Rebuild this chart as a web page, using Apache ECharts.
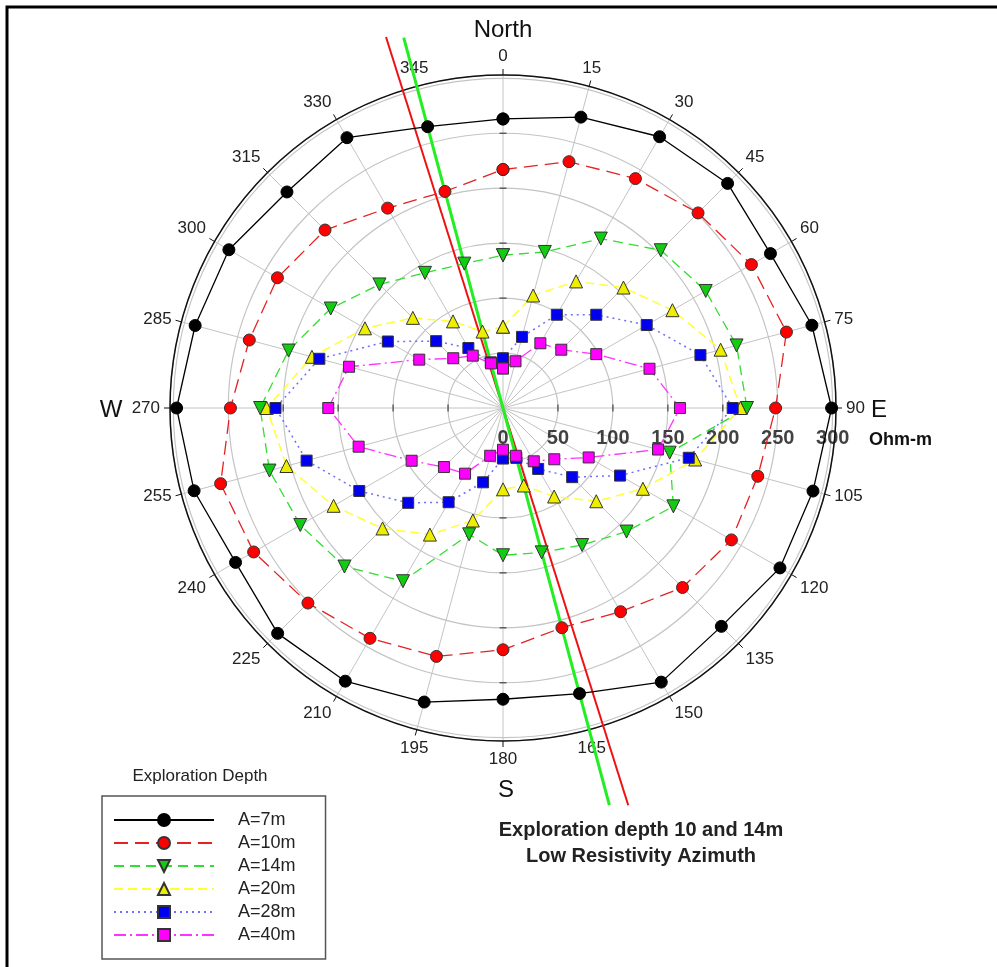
<!DOCTYPE html>
<html>
<head>
<meta charset="utf-8">
<script src="https://cdn.jsdelivr.net/npm/echarts@6/dist/echarts.min.js"></script>
<style>
html,body{margin:0;padding:0;background:#fff;}
#chart{width:997px;height:967px;}
</style>
</head>
<body>
<div id="chart"></div>
<script>
// ---- data ----
const angles = [0,15,30,45,60,75,90,105,120,135,150,165,180,195,210,225,240,255,270,285,300,315,330,345];
const angleLabels = ['0','15','30','45','60','75','90','105','120','135','150','165','180','195','210','225','240','255','270','285','300','315','330','345'];
const radTickVals = [0,50,100,150,200,250,300];
const radTickLabels = ['0','50','100','150','200','250','300'];
const seriesNames = ['A=7m','A=10m','A=14m','A=20m','A=28m','A=40m'];
const A7  = [263,274,285,289,281,291,299,292,291,281,288,269,265,277,287,290,281,291,297,290,288,278,284,265];
const A10 = [217,232,241,251,261,267,248,240,240,231,214,207,220,234,242,251,262,266,248,239,237,229,210,204];
const A14 = [139,147,178,203,213,220,222,157,179,159,144,136,134,119,182,204,213,220,221,202,181,159,142,136];
const A20 = [74,106,133,155,178,205,216,181,147,120,93,73,74,106,133,155,178,204,215,180,145,116,91,72];
const A28 = [45,67,98,120,151,186,209,175,123,89,64,47,46,70,99,122,151,185,207,173,121,86,63,43];
const A40 = [36,44,68,75,98,138,161,146,90,66,56,45,38,45,69,76,96,136,159,145,88,64,55,42];
// azimuth lines: [radius (Ohm-m scale), angle] end points
const redAzimuth   = [[354,342.5],[379,162.5]];
const greenAzimuth = [[349,345],[374,165]];

const FONT = '"Liberation Sans", Arial, sans-serif';
const R_MAX = 303, R_PX = 333, R_MAX_EXT = 400;

function loop(vals){
  const d = angles.map((a,i)=>[vals[i], a]);
  d.push([vals[0], 360]);
  return d;
}

const chart = echarts.init(document.getElementById('chart'), null, {renderer:'canvas'});

function dataSeries(name, vals, opts){
  return Object.assign({
    name: name,
    type: 'line',
    coordinateSystem: 'polar',
    polarIndex: 0,
    data: loop(vals),
    clip: false,
    symbolSize: 12,
    animation: false
  }, opts);
}

const tickDashV = [];
const tickDashH = [];
radTickVals.forEach(v=>{
  if (v === 0 || v === 300) return;
  [0,180].forEach(a=>tickDashV.push([v,a]));
  [90,270].forEach(a=>tickDashH.push([v,a]));
});

const option = {
  backgroundColor:'#fff',
  animation:false,
  polar:[
    {center:[503,408], radius:R_PX},
    {center:[503,408], radius:R_PX*R_MAX_EXT/R_MAX}
  ],
  angleAxis:[{
    polarIndex:0,
    type:'value', min:0, max:360, interval:15, startAngle:90, clockwise:true,
    axisLine:{show:true, lineStyle:{color:'#111', width:1.5}},
    axisTick:{show:true, inside:false, length:6, lineStyle:{color:'#111', width:1}},
    axisLabel:{show:true, margin:10, fontSize:17, color:'#222', fontFamily:FONT,
      formatter:function(v){ const i = Math.round(v/15); return (v>=360) ? '' : angleLabels[i]; }},
    splitLine:{show:true, lineStyle:{color:'#c4c4c4', width:1}}
  },{
    polarIndex:1,
    type:'value', min:0, max:360, startAngle:90, clockwise:true,
    axisLine:{show:false}, axisTick:{show:false}, axisLabel:{show:false}, splitLine:{show:false}
  }],
  radiusAxis:[{
    polarIndex:0,
    type:'value', min:0, max:R_MAX, interval:50,
    axisLine:{show:false}, axisTick:{show:false}, axisLabel:{show:false},
    splitLine:{show:true, lineStyle:{color:'#c4c4c4', width:1.2}}
  },{
    polarIndex:1,
    type:'value', min:0, max:R_MAX_EXT,
    axisLine:{show:false}, axisTick:{show:false}, axisLabel:{show:false}, splitLine:{show:false}
  }],
  legend:{
    data: seriesNames,
    orient:'vertical', left:102, top:796,
    padding:[15,30,15,11], itemGap:5, itemWidth:100, itemHeight:15,
    borderColor:'#555', borderWidth:1.5, selectedMode:false,
    textStyle:{fontSize:18, color:'#222', fontFamily:FONT, padding:[0,0,0,19]}
  },
  graphic:[
    {type:'rect', shape:{x:7,y:7,width:1200,height:1200}, style:{fill:'none', stroke:'#000', lineWidth:3}, z:100},
    {type:'text', x:503, y:30, style:{text:'North', font:'24px '+FONT, fill:'#111', align:'center', verticalAlign:'middle'}},
    {type:'text', x:871, y:410, style:{text:'E', font:'24px '+FONT, fill:'#111', align:'left', verticalAlign:'middle'}},
    {type:'text', x:111, y:410, style:{text:'W', font:'24px '+FONT, fill:'#111', align:'center', verticalAlign:'middle'}},
    {type:'text', x:506, y:790, style:{text:'S', font:'24px '+FONT, fill:'#111', align:'center', verticalAlign:'middle'}},
    {type:'text', x:869, y:440, style:{text:'Ohm-m', font:'bold 18px '+FONT, fill:'#111', align:'left', verticalAlign:'middle'}},
    {type:'text', x:200, y:776, style:{text:'Exploration Depth', font:'17px '+FONT, fill:'#222', align:'center', verticalAlign:'middle'}},
    {type:'text', x:641, y:830, style:{text:'Exploration depth 10 and 14m', font:'bold 20px '+FONT, fill:'#222', align:'center', verticalAlign:'middle'}},
    {type:'text', x:641, y:856, style:{text:'Low Resistivity Azimuth', font:'bold 20px '+FONT, fill:'#222', align:'center', verticalAlign:'middle'}}
  ],
  series:[
    {type:'line', coordinateSystem:'polar', polarIndex:1, data:redAzimuth, clip:false, symbol:'none', silent:true,
      lineStyle:{color:'#ee1111', width:2}},
    {type:'line', coordinateSystem:'polar', polarIndex:1, data:greenAzimuth, clip:false, symbol:'none', silent:true,
      lineStyle:{color:'#22ee22', width:3}},
    {type:'scatter', coordinateSystem:'polar', polarIndex:0, data:tickDashV, symbol:'rect', symbolSize:[7,1.2], silent:true,
      itemStyle:{color:'#222'}},
    {type:'scatter', coordinateSystem:'polar', polarIndex:0, data:tickDashH, symbol:'rect', symbolSize:[1.2,7], silent:true,
      itemStyle:{color:'#222'}},
    {type:'scatter', coordinateSystem:'polar', polarIndex:0, data:radTickVals.map(v=>[v,90]), symbolSize:1, silent:true,
      itemStyle:{color:'rgba(0,0,0,0)'},
      label:{show:true, position:'inside', offset:[0,30], fontSize:20, fontWeight:'bold', color:'#111', fontFamily:FONT,
        formatter:function(p){ return radTickLabels[p.dataIndex]; }}},
    dataSeries('A=7m', A7, {symbol:'circle',
      lineStyle:{color:'#000', width:1.3, type:'solid'},
      itemStyle:{color:'#000', borderColor:'#000', borderWidth:1}}),
    dataSeries('A=10m', A10, {symbol:'circle',
      lineStyle:{color:'#e52222', width:1.3, type:[14,7]},
      itemStyle:{color:'#ff0000', borderColor:'#333', borderWidth:1}}),
    dataSeries('A=14m', A14, {symbol:'triangle', symbolRotate:180, symbolSize:13,
      lineStyle:{color:'#33dd33', width:1.3, type:[10,6]},
      itemStyle:{color:'#11cc11', borderColor:'#333', borderWidth:1}}),
    dataSeries('A=20m', A20, {symbol:'triangle', symbolSize:13,
      lineStyle:{color:'#ffff33', width:1.5, type:[9,5]},
      itemStyle:{color:'#eeee00', borderColor:'#333', borderWidth:1}}),
    dataSeries('A=28m', A28, {symbol:'rect', symbolSize:11,
      lineStyle:{color:'#6f6fff', width:1.5, type:[2,4]},
      itemStyle:{color:'#0000ee', borderColor:'#333', borderWidth:1}}),
    dataSeries('A=40m', A40, {symbol:'rect', symbolSize:11,
      lineStyle:{color:'#ff33ff', width:1.3, type:[12,4,2,4]},
      itemStyle:{color:'#ff00ff', borderColor:'#333', borderWidth:1}})
  ]
};
chart.setOption(option);
</script>
</body>
</html>
